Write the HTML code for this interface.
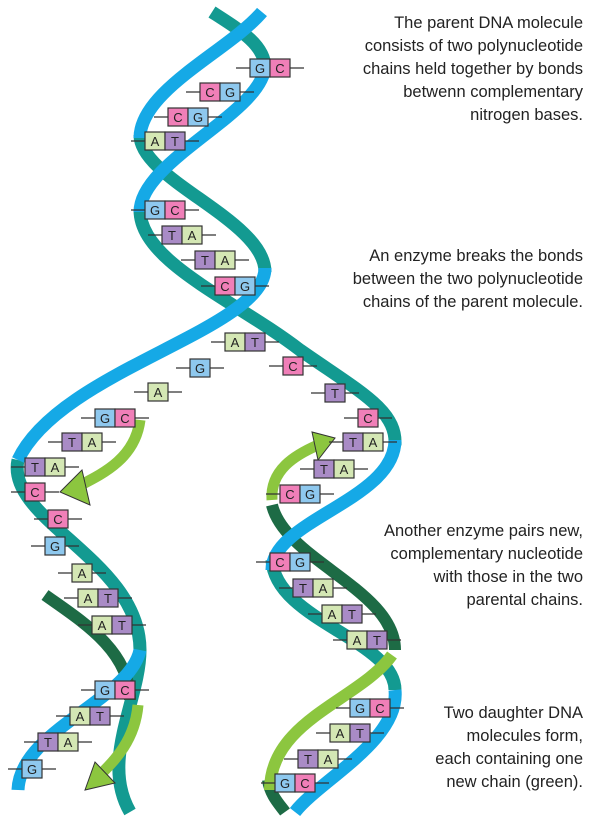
<!DOCTYPE html>
<html><head><meta charset="utf-8"><style>
body{margin:0;background:#fff;width:600px;height:817px;overflow:hidden}
svg{display:block}
text{font-family:"Liberation Sans",sans-serif}
.cap{font-size:16.5px;fill:#222;text-anchor:end}
.bl{font-size:13px;fill:#222;text-anchor:middle}
</style></head><body>
<svg width="600" height="817" viewBox="0 0 600 817">
<g fill="none" stroke-linecap="butt">
 <path d="M140,135 C140,180 265,220 265,272" stroke="#139a91" stroke-width="13"/>
 <path d="M212,12 C240,30 265,45 265,68" stroke="#139a91" stroke-width="13"/>
 <path d="M140,210 C140,262 235,300 300,350 C360,392 397,410 395,445" stroke="#139a91" stroke-width="13"/>
 <path d="M18,460 C5,520 140,560 140,650 C140,700 100,760 130,812" stroke="#139a91" stroke-width="13"/>
 <path d="M272,560 C275,620 395,640 395,690" stroke="#139a91" stroke-width="13"/>
 <path d="M45,595 C80,620 130,650 130,700" stroke="#1d6b45" stroke-width="12"/>
 <path d="M272,505 C285,560 395,590 395,650" stroke="#1d6b45" stroke-width="12"/>
 <path d="M268,780 C270,795 280,805 285,812" stroke="#1d6b45" stroke-width="12"/>
 <path d="M262,12 C230,50 140,90 140,138" stroke="#15a9e6" stroke-width="13"/>
 <path d="M265,65 C265,112 140,160 140,212" stroke="#15a9e6" stroke-width="13"/>
 <path d="M265,268 C265,330 60,370 18,460" stroke="#15a9e6" stroke-width="13"/>
 <path d="M140,650 C130,700 20,730 18,790" stroke="#15a9e6" stroke-width="13"/>
 <path d="M395,440 C395,500 272,520 272,570" stroke="#15a9e6" stroke-width="13"/>
 <path d="M395,690 C400,740 320,780 295,812" stroke="#15a9e6" stroke-width="13"/>
 <path d="M392,655 C360,700 270,720 270,790" stroke="#8cc63f" stroke-width="12"/>
 <path d="M140,420 C135,460 100,475 75,488" stroke="#8cc63f" stroke-width="11"/>
 <polygon points="60,492 82,470 90,505" fill="#8cc63f" stroke="#333" stroke-width="1"/>
 <path d="M138,705 C135,740 115,760 100,775" stroke="#8cc63f" stroke-width="11"/>
 <polygon points="85,790 95,762 115,783" fill="#8cc63f" stroke="#333" stroke-width="1"/>
 <path d="M272,500 C270,470 295,455 318,445" stroke="#8cc63f" stroke-width="11"/>
 <polygon points="335,438 312,432 318,460" fill="#8cc63f" stroke="#333" stroke-width="1"/>
</g>
<g id="bases"></g>
<g>
 <text class="cap" x="583" y="28">The parent DNA molecule</text>
 <text class="cap" x="583" y="51">consists of two polynucleotide</text>
 <text class="cap" x="583" y="74">chains held together by bonds</text>
 <text class="cap" x="583" y="97">betwenn complementary</text>
 <text class="cap" x="583" y="120">nitrogen bases.</text>
 <text class="cap" x="583" y="261">An enzyme breaks the bonds</text>
 <text class="cap" x="583" y="284">between the two polynucleotide</text>
 <text class="cap" x="583" y="307">chains of the parent molecule.</text>
 <text class="cap" x="583" y="536">Another enzyme pairs new,</text>
 <text class="cap" x="583" y="559">complementary nucleotide</text>
 <text class="cap" x="583" y="582">with those in the two</text>
 <text class="cap" x="583" y="605">parental chains.</text>
 <text class="cap" x="583" y="718">Two daughter DNA</text>
 <text class="cap" x="583" y="741">molecules form,</text>
 <text class="cap" x="583" y="764">each containing one</text>
 <text class="cap" x="583" y="787">new chain (green).</text>
</g>
</svg>
<script>
const baseLabels=["GC","CG","CG","AT","GC","TA","TA","CG","AT","G","A","GC","TA","TA","C","C","G","A","AT","AT","GC","AT","TA","G",
"C","T","C","TA","TA","CG","CG","TA","AT","AT","GC","AT","TA","GC"];
const baseX=[250,200,168,145,145,162,195,215,225,190,148,95,62,25,25,48,45,72,78,92,95,70,38,22,
283,325,358,343,314,280,270,293,322,347,350,330,298,275];
const baseY=[68,92,117,141,210,235,260,286,342,368,392,418,442,467,492,519,546,573,598,625,690,716,742,769,
366,393,418,442,469,494,562,588,614,640,708,733,759,783];
const col={G:"#8ec8ee",C:"#f07fb8",A:"#d4e7b4",T:"#a98bc6"};
const g=document.getElementById('bases');
const NS="http://www.w3.org/2000/svg";
for(let i=0;i<baseLabels.length;i++){
 const s=baseLabels[i],x=baseX[i],y=baseY[i];
 const ln=document.createElementNS(NS,'line');
 ln.setAttribute('x1',x-14);ln.setAttribute('x2',x+s.length*20+14);
 ln.setAttribute('y1',y);ln.setAttribute('y2',y);
 ln.setAttribute('stroke','#333');ln.setAttribute('stroke-width','1.2');
 
 
 g.appendChild(ln);
 for(let j=0;j<s.length;j++){
  const r=document.createElementNS(NS,'rect');
  r.setAttribute('x',x+j*20);r.setAttribute('y',y-9);r.setAttribute('width',20);r.setAttribute('height',18);
  r.setAttribute('fill',col[s[j]]);r.setAttribute('stroke','#333');r.setAttribute('stroke-width','1.2');
  
  
  g.appendChild(r);
  const t=document.createElementNS(NS,'text');
  t.setAttribute('class','bl');t.setAttribute('x',x+j*20+10);t.setAttribute('y',y+5);
  t.textContent=s[j];
  
  
  g.appendChild(t);
 }
}
</script>
</body></html>
